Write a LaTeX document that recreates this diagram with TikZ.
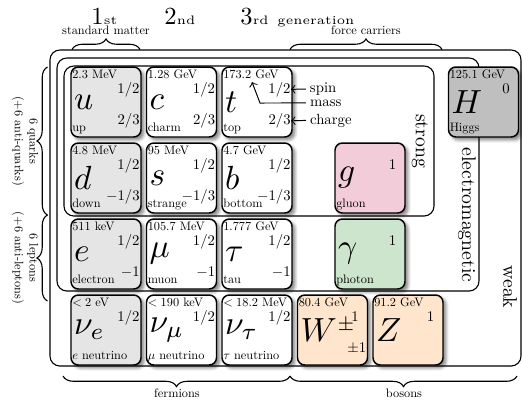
\documentclass[tikz,border=0pt]{standalone}
\usetikzlibrary{calc,shadows.blur,decorations.pathreplacing}
\newcommand\ptcl[8]{%
  \node[pbox, fill=#3] (#1) at (#2) {};
  \node[sym] (#1-sym) at ($(#1.west)+(2.5,0)$) {#4};
  \node[massl] (#1-mass) at ($(#1.north west)+(1,11)$) {#6};
  \node[spinl] (#1-spin) at ($(#1.north east)+(-12.5,26)$) {#7};
  \node[chargel] (#1-charge) at ($(#1.north east)+(-1,57.5)$) {#8};
  \node[pname] (#1-name) at ($(#1.north west)+(1,64)$) {#5};
}
\begin{document}
\begin{tikzpicture}[x=0.4065pt,y=-0.4065pt,
  pbox/.style={draw=black, line width=0.6pt, rounded corners=3pt,
    minimum width=28.45pt, minimum height=28.45pt, inner sep=0pt, outer sep=0pt,
    blur shadow={shadow blur steps=5, shadow xshift=1.2pt, shadow yshift=-1.2pt,
      shadow blur radius=1.3pt, shadow opacity=50}},
  sym/.style={anchor=west, inner sep=0pt, scale=1.36},
  massl/.style={anchor=base west, inner sep=0pt, scale=0.5},
  spinl/.style={anchor=base, inner sep=0pt, scale=0.6},
  chargel/.style={anchor=base east, inner sep=0pt, scale=0.6},
  pname/.style={anchor=base west, inner sep=0pt, scale=0.5},
  rect/.style={draw=black, line width=0.45pt, rounded corners=4pt},
  force/.style={rotate=-90, scale=0.8, inner sep=0pt},
  legend/.style={anchor=mid west, inner sep=0pt, inner xsep=2.6pt, scale=0.6},
  legarrow/.style={->, line width=0.4pt},
  brace/.style={decorate, decoration={brace, amplitude=4.3pt}, line width=0.45pt},
  mbrace/.style={decorate, decoration={brace, amplitude=4.3pt, mirror}, line width=0.45pt},
  lbl/.style={scale=0.5, inner sep=0pt, align=center},
  gen/.style={anchor=base west, inner sep=0pt}
]
\useasboundingbox (0,0) rectangle (522,401);

% interaction regions
\draw[rect] (50,50) rectangle (521,366);
\draw[rect] (57,58) rectangle (479,291);
\draw[rect] (64,66) rectangle (434,216);

% particles
\ptcl{u}{106,102}{gray!20}{$u$}{up}{2.3 MeV}{$1/2$}{$2/3$}
\ptcl{c}{181.5,102}{white}{$c$}{charm}{1.28 GeV}{$1/2$}{$2/3$}
\ptcl{t}{257,102}{white}{$t$}{top}{173.2 GeV}{$1/2$}{$2/3$}
\ptcl{d}{106,178}{gray!20}{$d$}{down}{4.8 MeV}{$1/2$}{$-1/3$}
\ptcl{s}{181.5,178}{white}{$s$}{strange}{95 MeV}{$1/2$}{$-1/3$}
\ptcl{b}{257,178}{white}{$b$}{bottom}{4.7 GeV}{$1/2$}{$-1/3$}
\ptcl{e}{106,254}{gray!20}{$e$}{electron}{511 keV}{$1/2$}{$-1$}
\ptcl{mu}{181.5,254}{white}{$\mu$}{muon}{105.7 MeV}{$1/2$}{$-1$}
\ptcl{tau}{257,254}{white}{$\tau$}{tau}{1.777 GeV}{$1/2$}{$-1$}
\ptcl{nue}{106,330}{gray!20}{$\nu_e$}{$e$ neutrino}{$<2$ eV}{$1/2$}{}
\ptcl{num}{181.5,330}{white}{$\nu_\mu$}{$\mu$ neutrino}{$<190$ keV}{$1/2$}{}
\ptcl{nut}{257,330}{white}{$\nu_\tau$}{$\tau$ neutrino}{$<18.2$ MeV}{$1/2$}{}
\ptcl{W}{332.5,330}{orange!20}{$W^{\scriptscriptstyle\pm}$}{}{80.4 GeV}{$1$}{$\pm1$}
\ptcl{Z}{408,330}{orange!20}{$Z$}{}{91.2 GeV}{$1$}{}
\ptcl{g}{370,178}{purple!20}{$g$}{gluon}{}{$1$}{}
\ptcl{gam}{370,254}{green!50!black!20}{$\gamma$}{photon}{}{$1$}{}
\ptcl{H}{483.5,102}{gray!50}{$H$}{Higgs}{125.1 GeV}{$0$}{}

% force labels
\node[force] (strong) at (420,141) {strong};
\node[force] (emag) at (467,215) {electromagnetic};
\node[force] (weak) at (510,287) {weak};

% legend
\node[legend] (lspin) at ($(t-spin.east)+(15,0)$) {spin};
\node[legend] (lmass) at (306,103) {mass};
\node[legend] (lcharge) at ($(t-charge.east)+(15,0)$) {charge};
\coordinate (mbend) at (260,103);
\coordinate (mtip) at (252,82);
\draw[legarrow] (lspin.west) -- (t-spin.east);
\draw[legarrow] (lcharge.west) -- (t-charge.east);
\draw[legarrow] (lmass.west) -- (mbend) -- (mtip);

% generations
\node[gen] (g1) at (91,24) {1\tiny st};
\node[gen] (g2) at (164,24) {2\tiny nd};
\node[gen] (g3) at (240,24) {3\tiny rd};
\node[gen] (g4) at (277,24) {\tiny generation};

% top braces
\coordinate (sm1) at (72,49.5); \coordinate (sm2) at (140,49.5);
\coordinate (fc1) at (290,49.5); \coordinate (fc2) at (442,49.5);
\draw[brace] (sm1) -- (sm2);
\draw[brace] (fc1) -- (fc2);
\node[lbl, anchor=base] (smlbl) at (106,34.5) {standard matter};
\node[lbl, anchor=base] (fclbl) at (366,34.5) {force carriers};

% left braces
\coordinate (q1) at (47.5,67); \coordinate (q2) at (47.5,215);
\coordinate (l2) at (47.5,301);
\draw[mbrace] (q1) -- (q2);
\draw[mbrace] (q2) -- (l2);
\node[lbl, rotate=-90] (qlbl) at (25,141) {6 quarks\\(+6 anti-quarks)};
\node[lbl, rotate=-90] (llbl) at (25,258) {6 leptons\\(+6 anti-leptons)};

% bottom braces
\coordinate (f1) at (63,376); \coordinate (f2) at (290,376); \coordinate (f3) at (517,376);
\draw[mbrace] (f1) -- (f2);
\draw[mbrace] (f2) -- (f3);
\node[lbl, anchor=base] (flbl) at (177,397) {fermions};
\node[lbl, anchor=base] (blbl) at (404,397) {bosons};
\end{tikzpicture}
\end{document}
